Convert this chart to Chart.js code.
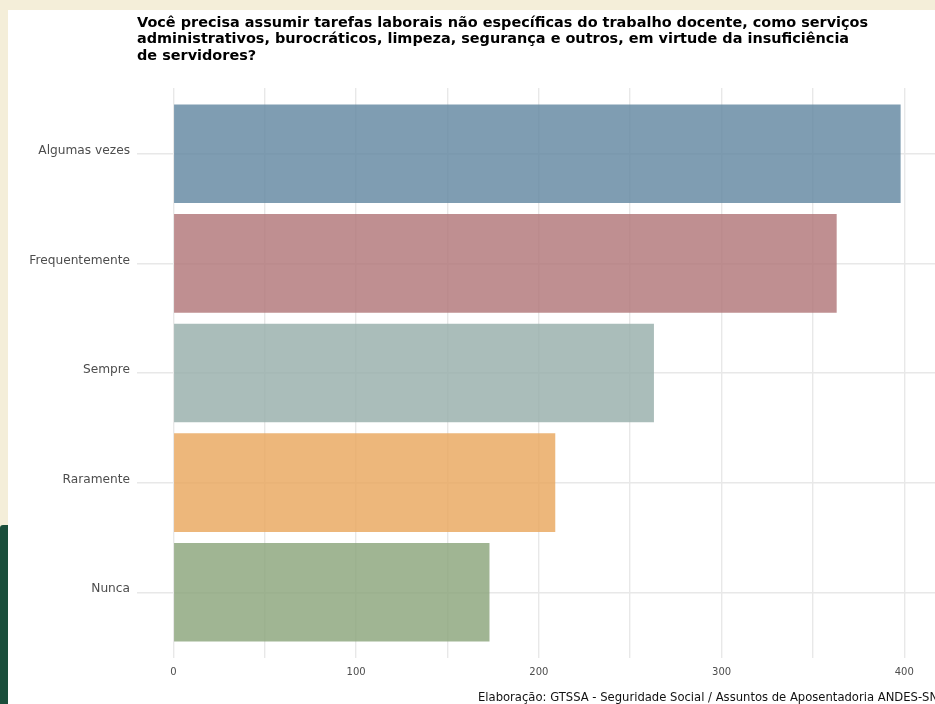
<!DOCTYPE html>
<html>
<head>
<meta charset="utf-8">
<script src="https://cdn.jsdelivr.net/npm/chart.js@4"></script>
<style>
  html, body { margin: 0; padding: 0; }
  body { width: 935px; height: 704px; overflow: hidden; position: relative; background: #f4eed9; font-family: "DejaVu Sans", sans-serif; }
  #green { position: absolute; left: 0; top: 525px; width: 40px; height: 200px; background: #1a4e3b; border-top-left-radius: 3px; }
  #panel { position: absolute; left: 8px; top: 10px; width: 960px; height: 720px; background: #fff; }
  #chart { position: absolute; left: 0; top: 0; }
  #title { position: absolute; left: 137px; top: 13.5px; font-size: 14.45px; line-height: 16.5px; font-weight: bold; color: #000; white-space: nowrap; }
  #caption { position: absolute; left: 478px; top: 690px; font-size: 11.6px; color: #111; white-space: nowrap; }
</style>
</head>
<body>
<div id="green"></div>
<div id="panel"></div>
<canvas id="chart" width="950" height="704"></canvas>
<div id="title">Você precisa assumir tarefas laborais não específicas do trabalho docente, como serviços<br>administrativos, burocráticos, limpeza, segurança e outros, em virtude da insuficiência<br>de servidores?</div>
<div id="caption">Elaboração: GTSSA - Seguridade Social / Assuntos de Aposentadoria ANDES-SN</div>
<script>
const categories = ["Algumas vezes", "Frequentemente", "Sempre", "Raramente", "Nunca"];
const counts = [398, 363, 263, 209, 173];
const barColors = [
  "rgba(95, 132, 159, 0.8)",
  "rgba(175, 115, 118, 0.8)",
  "rgba(149, 172, 169, 0.8)",
  "rgba(232, 165, 90, 0.8)",
  "rgba(136, 162, 120, 0.8)",
];
const xGridValues = [0, 50, 100, 150, 200, 250, 300, 350, 400];
const xTickLabels = ["0", "", "100", "", "200", "", "300", "", "400"];

const ctx = document.querySelector("#chart");

const opts = {
  type: "bar",
  data: {
    datasets: [
      {
        data: counts.map((v, i) => ({ x: v, y: i + 1 })),
        backgroundColor: barColors,
        borderWidth: 0,
        barPercentage: 0.9,
        categoryPercentage: 1,
      },
    ],
  },
  options: {
    indexAxis: "y",
    responsive: false,
    animation: false,
    devicePixelRatio: 1,
    layout: {
      padding: { top: 88, right: 13, bottom: 0, left: 0 },
    },
    scales: {
      x: {
        type: "linear",
        min: -19.9,
        max: 417.9,
        afterBuildTicks: scale => {
          scale.ticks = xGridValues.map(v => ({ value: v }));
        },
        afterFit: scale => {
          scale.height = 46;
        },
        ticks: {
          autoSkip: false,
          maxRotation: 0,
          padding: 8,
          color: "#4d4d4d",
          font: { family: "DejaVu Sans", size: 10 },
          callback: (value, index) => xTickLabels[index],
        },
        grid: {
          color: "#e8e8e8",
          lineWidth: 1.4,
          drawTicks: false,
        },
        border: { display: false },
      },
      y: {
        type: "linear",
        min: 0.4,
        max: 5.6,
        reverse: true,
        offset: false,
        afterBuildTicks: scale => {
          scale.ticks = categories.map((c, i) => ({ value: i + 1 }));
        },
        afterFit: scale => {
          scale.width = 137;
        },
        ticks: {
          autoSkip: false,
          padding: 7,
          labelOffset: -3,
          color: "#4d4d4d",
          font: { family: "DejaVu Sans", size: 12.2 },
          callback: (value, index) => categories[index],
        },
        grid: {
          offset: false,
          color: "#e8e8e8",
          lineWidth: 1.4,
          drawTicks: false,
        },
        border: { display: false },
      },
    },
    plugins: {
      legend: { display: false },
      tooltip: { enabled: false },
    },
  },
};

const myChart = new Chart(ctx, opts);
</script>
</body>
</html>
